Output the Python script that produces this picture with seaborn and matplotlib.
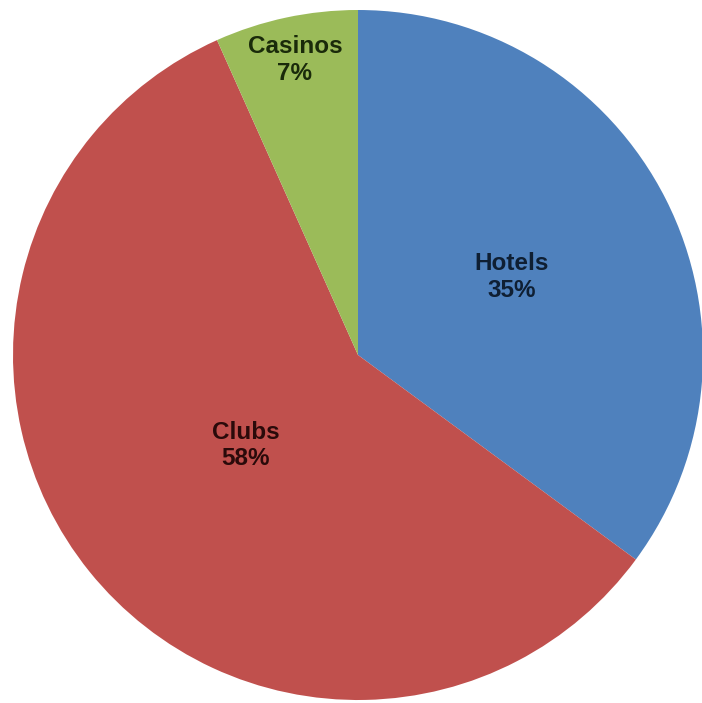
import numpy as np
import matplotlib
matplotlib.use('Agg')
import matplotlib.pyplot as plt
import seaborn as sns

sns.set_style('white')
plt.rcParams['font.family'] = ['Liberation Sans', 'DejaVu Sans']

labels = ['Hotels', 'Clubs', 'Casinos']
shares = [35.1, 58.2, 6.7]          # wedge sizes
pct_labels = ['35%', '58%', '7%']    # as printed on the chart
colors = ['#4f81bd', '#c0504d', '#9bbb59']
label_dist = [0.50, 0.418, 0.875]
text_colors = ['#0f1f33', '#2a0a0a', '#1a2a0a']

fig = plt.figure(figsize=(7.02, 7.03), dpi=100, facecolor='white')
ax = fig.add_axes([13 / 702, 3 / 703, 690 / 702, 690 / 703])

wedges, _ = ax.pie(shares, colors=colors, startangle=90, counterclock=False,
                   wedgeprops={'linewidth': 0})

for w, lab, pct, d, tc in zip(wedges, labels, pct_labels, label_dist, text_colors):
    mid = np.deg2rad((w.theta1 + w.theta2) / 2)
    ax.text(d * np.cos(mid), d * np.sin(mid), f'{lab}\n{pct}',
            ha='center', va='center', fontsize=17.5, fontweight='bold',
            color=tc, linespacing=1.2)

ax.set_xlim(-1, 1)
ax.set_ylim(-1, 1)
ax.set_aspect('equal')
ax.axis('off')

fig.savefig('out.png', dpi=100)
